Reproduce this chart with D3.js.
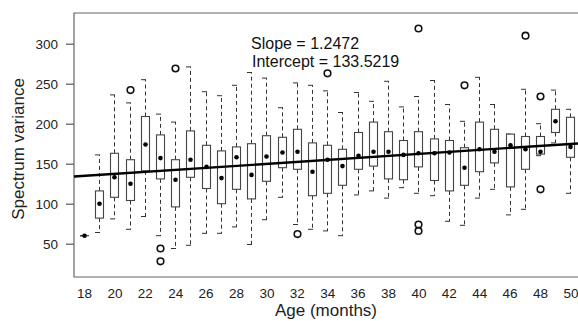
<!DOCTYPE html>
<html>
<head>
<meta charset="utf-8">
<script src="https://cdn.jsdelivr.net/npm/d3@7/dist/d3.min.js"></script>
<style>
    body { margin: 0; background: #fff; }
    svg { display: block; font-family: "Liberation Sans", Arial, sans-serif; }
</style>
</head>
<body>
<script>
/*global d3*/

var ages = [18, 19, 20, 21, 22, 23, 24, 25, 26, 27, 28, 29, 30, 31, 32, 33, 34,
            35, 36, 37, 38, 39, 40, 41, 42, 43, 44, 45, 46, 47, 48, 49, 50];

var lowerWhisker = [60, 64, 81, 68, 84, 60, 44, 48, 63, 63, 71, 49, 80, 108, 74, 68, 66,
                    60, 111, 116, 107, 120, 113, 110, 78, 73, 107, 118, 86, 93, 160, 176, 113];
var lowerQuartile = [60, 82, 108, 104, 141, 131, 96, 133, 119, 100, 118, 106, 128, 145, 143, 110, 113,
                     123, 143, 147, 131, 130, 146, 129, 116, 123, 140, 151, 121, 143, 162, 189, 158];
var medians = [60, 100, 133, 125, 174, 157, 130, 155, 146, 132, 158, 136, 159, 164, 165, 140, 155,
               147, 160, 165, 165, 161, 163, 163, 164, 145, 168, 165, 173, 168, 165, 203, 171];
var upperQuartile = [60, 116, 163, 155, 209, 186, 155, 191, 173, 166, 171, 175, 185, 183, 193, 176, 173,
                     168, 189, 202, 190, 179, 190, 181, 179, 170, 202, 193, 187, 184, 184, 218, 208];
var upperWhisker = [60, 161, 236, 226, 255, 212, 202, 271, 240, 235, 248, 264, 257, 220, 251, 248, 241,
                    214, 239, 228, 253, 221, 234, 254, 224, 203, 258, 224, 187, 243, 200, 242, 218];

/** outliers as [age, value] **/
var outliers = [[21, 242], [23, 44], [23, 28], [24, 269], [32, 62], [34, 263],
                [40, 319], [40, 74], [40, 66], [43, 248], [47, 310], [48, 234], [48, 118]];

var yTicks = [50, 100, 150, 200, 250, 300];
var xTicks = [18, 20, 22, 24, 26, 28, 30, 32, 34, 36, 38, 40, 42, 44, 46, 48, 50];

var slope = 1.2472,
    intercept = 133.5219;

var width = 578,
    height = 321,
    plotLeft = 74,
    plotTop = 13,
    plotBottom = 277,
    boxHalf = 4;

var svg = d3.select("body").append("svg")
    .attr("width", width)
    .attr("height", height);

var x = d3.scaleLinear().domain([18, 50]).range([84, 570.4]);
var y = d3.scaleLinear().domain([0, 350]).range([283.7, 3.7]);

/** Frame **/
svg.append("path")
    .attr("d", "M" + (width + 2) + "," + plotTop + "H" + plotLeft + "V" + plotBottom + "H" + (width + 2))
    .attr("fill", "none")
    .attr("stroke", "#666")
    .attr("stroke-width", 1.2);

/** Y axis **/
var yAxis = svg.append("g")
    .attr("transform", "translate(" + plotLeft + ",0)")
    .call(d3.axisLeft(y).tickValues(yTicks).tickSize(8).tickPadding(8));
yAxis.select(".domain").remove();
yAxis.selectAll("line").attr("stroke", "#555").attr("stroke-width", 1.2);
yAxis.selectAll("text").attr("font-size", 13.5).attr("fill", "#222")
    .attr("font-family", "Liberation Sans, Arial, sans-serif");

/** X axis, labels only **/
var xAxis = svg.append("g")
    .attr("transform", "translate(0," + plotBottom + ")")
    .call(d3.axisBottom(x).tickValues(xTicks).tickSize(0).tickPadding(11));
xAxis.select(".domain").remove();
xAxis.selectAll("text").attr("font-size", 13.5).attr("fill", "#222")
    .attr("font-family", "Liberation Sans, Arial, sans-serif");

/** Titles **/
svg.append("text")
    .attr("x", 326)
    .attr("y", 316)
    .attr("text-anchor", "middle")
    .attr("font-size", 17)
    .attr("fill", "#222")
    .text("Age (months)");

svg.append("text")
    .attr("transform", "translate(24,149) rotate(-90)")
    .attr("text-anchor", "middle")
    .attr("font-size", 17)
    .attr("fill", "#222")
    .text("Spectrum variance");

/** Boxes **/
var boxes = svg.append("g");

ages.forEach(function (age, i) {
    var cx = Math.round(x(age)) + 0.5,
        g = boxes.append("g");

    /** dashed whiskers **/
    [[upperQuartile[i], upperWhisker[i]], [lowerQuartile[i], lowerWhisker[i]]].forEach(function (w) {
        if (w[0] !== w[1]) {
            g.append("line")
                .attr("x1", cx).attr("x2", cx)
                .attr("y1", y(w[0])).attr("y2", y(w[1]))
                .attr("stroke", "#333")
                .attr("stroke-dasharray", "4,3");
        }
        g.append("line")
            .attr("x1", cx - 4.5).attr("x2", cx + 0.5)
            .attr("y1", y(w[1])).attr("y2", y(w[1]))
            .attr("stroke", "#333");
    });

    g.append("rect")
        .attr("x", cx - boxHalf)
        .attr("y", y(upperQuartile[i]))
        .attr("width", boxHalf * 2)
        .attr("height", Math.max(0.1, y(lowerQuartile[i]) - y(upperQuartile[i])))
        .attr("fill", "#fff")
        .attr("stroke", "#444")
        .attr("stroke-width", 1.1);

    g.append("circle")
        .attr("cx", cx)
        .attr("cy", y(medians[i]))
        .attr("r", 2.3)
        .attr("fill", "#000");
});

/** Outliers **/
svg.append("g").selectAll("circle")
    .data(outliers)
    .join("circle")
    .attr("cx", function (d) { return Math.round(x(d[0])) + 0.5; })
    .attr("cy", function (d) { return y(d[1]); })
    .attr("r", 3.3)
    .attr("fill", "none")
    .attr("stroke", "#111")
    .attr("stroke-width", 1.6);

/** Regression line, x counted from 1 at age 18 **/
var xLeft = x.invert(plotLeft),
    xRight = x.invert(width);
svg.append("line")
    .attr("x1", plotLeft)
    .attr("x2", width)
    .attr("y1", y(intercept + slope * (xLeft - 17)))
    .attr("y2", y(intercept + slope * (xRight - 17)))
    .attr("stroke", "#000")
    .attr("stroke-width", 2.4);

/** Annotation, two separate lines **/
svg.append("text")
    .attr("x", 251)
    .attr("y", 49)
    .attr("font-size", 16)
    .attr("fill", "#111")
    .text("Slope = " + slope.toFixed(4));
svg.append("text")
    .attr("x", 252)
    .attr("y", 67)
    .attr("font-size", 16)
    .attr("fill", "#111")
    .text("Intercept = " + intercept.toFixed(4));
</script>
</body>
</html>
